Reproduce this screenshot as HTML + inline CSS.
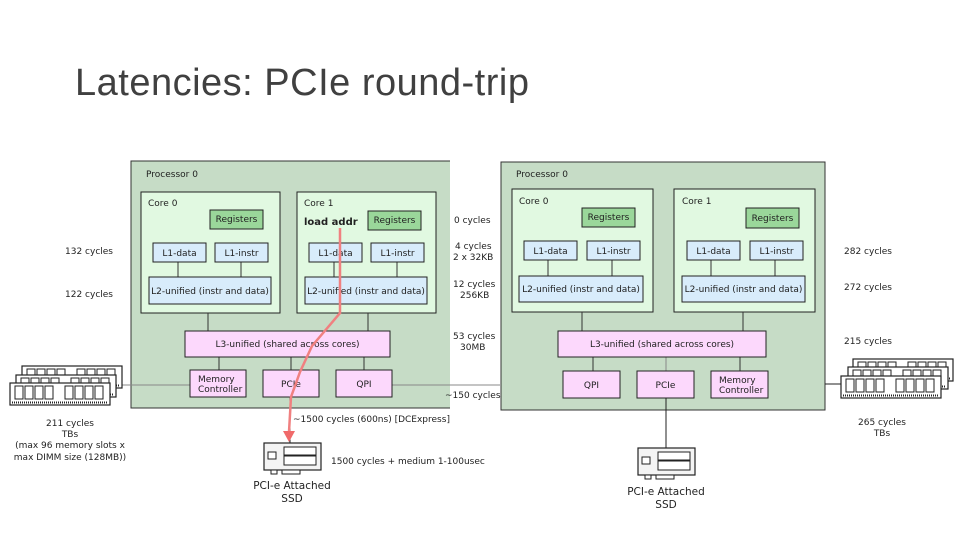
<!DOCTYPE html>
<html><head><meta charset="utf-8"><style>
html,body{margin:0;padding:0;background:#fff;}
svg{display:block;}
text{font-family:"DejaVu Sans","Liberation Sans",sans-serif;}
</style></head><body>
<svg width="960" height="540" viewBox="0 0 960 540" xmlns="http://www.w3.org/2000/svg">
<defs>
<g id="dimm">
  <rect x="0" y="0" width="100" height="22" fill="#fff" stroke="#222" stroke-width="1.2"/>
  <rect x="5" y="3" width="8" height="13" fill="#fff" stroke="#222"/>
  <rect x="15" y="3" width="8" height="13" fill="#fff" stroke="#222"/>
  <rect x="25" y="3" width="8" height="13" fill="#fff" stroke="#222"/>
  <rect x="35" y="3" width="8" height="13" fill="#fff" stroke="#222"/>
  <rect x="55" y="3" width="8" height="13" fill="#fff" stroke="#222"/>
  <rect x="65" y="3" width="8" height="13" fill="#fff" stroke="#222"/>
  <rect x="75" y="3" width="8" height="13" fill="#fff" stroke="#222"/>
  <rect x="85" y="3" width="8" height="13" fill="#fff" stroke="#222"/>
  <line x1="2" y1="19.5" x2="98" y2="19.5" stroke="#222" stroke-width="2" stroke-dasharray="1,1"/>
</g>
<g id="ssd">
  <rect x="0" y="0" width="57" height="27" fill="#f4f4f4" stroke="#222" stroke-width="1.2"/>
  <rect x="4" y="9" width="8" height="7" fill="#fff" stroke="#222"/>
  <rect x="20" y="4" width="32" height="8" fill="#fff" stroke="#222"/>
  <rect x="20" y="13" width="32" height="9" fill="#fff" stroke="#222"/>
  <rect x="7" y="27" width="6" height="4" fill="#fff" stroke="#222"/>
  <rect x="18" y="27" width="18" height="4" fill="#fff" stroke="#222"/>
</g>
</defs>

<text x="75" y="95" font-size="38" letter-spacing="0.5" fill="#404040" style="font-family:'Liberation Sans',sans-serif">Latencies: PCIe round-trip</text>

<g font-size="9" fill="#222" stroke-width="1">
<!-- Left processor -->
<rect x="131" y="161" width="320" height="247" fill="#c6dcc6" stroke="#333"/>
<rect x="450" y="158" width="2" height="254" fill="#fff"/>
<text x="146" y="177">Processor 0</text>
<rect x="141" y="192" width="139" height="121" fill="#e1f9e1" stroke="#222"/>
<rect x="297" y="192" width="139" height="121" fill="#e1f9e1" stroke="#222"/>
<text x="148" y="206">Core 0</text>
<text x="304" y="206">Core 1</text>
<text x="304" y="225" font-weight="bold" font-size="10">load addr</text>
<rect x="210" y="210" width="53" height="19" fill="#9ad79a" stroke="#222"/>
<rect x="368" y="211" width="53" height="19" fill="#9ad79a" stroke="#222"/>
<text x="236.5" y="222" text-anchor="middle">Registers</text>
<text x="394.5" y="223" text-anchor="middle">Registers</text>
<g stroke="#333"><line x1="178" y1="262" x2="178" y2="277"/><line x1="241" y1="262" x2="241" y2="277"/><line x1="334" y1="262" x2="334" y2="277"/><line x1="397" y1="262" x2="397" y2="277"/>
<line x1="208" y1="313" x2="208" y2="331"/><line x1="368" y1="313" x2="368" y2="331"/>
<line x1="219" y1="357" x2="219" y2="370"/><line x1="291" y1="357" x2="291" y2="370"/><line x1="364" y1="357" x2="364" y2="370"/>
<line x1="120" y1="385" x2="190" y2="385" stroke="#888"/><line x1="392" y1="385" x2="500" y2="385" stroke="#888"/>
<line x1="290" y1="397" x2="290" y2="443" stroke="#222"/></g>
<g fill="#d8ecfb" stroke="#222">
<rect x="153" y="243" width="53" height="19"/><rect x="215" y="243" width="53" height="19"/>
<rect x="309" y="243" width="53" height="19"/><rect x="371" y="243" width="53" height="19"/>
<rect x="149" y="277" width="122" height="27"/><rect x="305" y="277" width="122" height="27"/></g>
<text x="179.5" y="256" text-anchor="middle">L1-data</text><text x="241.5" y="256" text-anchor="middle">L1-instr</text>
<text x="335.5" y="256" text-anchor="middle">L1-data</text><text x="397.5" y="256" text-anchor="middle">L1-instr</text>
<text x="210" y="294" text-anchor="middle">L2-unified (instr and data)</text>
<text x="366" y="294" text-anchor="middle">L2-unified (instr and data)</text>
<g fill="#fcd8fc" stroke="#222">
<rect x="185" y="331" width="205" height="26"/>
<rect x="190" y="370" width="56" height="27"/><rect x="263" y="370" width="56" height="27"/><rect x="336" y="370" width="56" height="27"/></g>
<text x="287.5" y="347" text-anchor="middle">L3-unified (shared across cores)</text>
<text x="198" y="382">Memory</text><text x="198" y="392">Controller</text>
<text x="291" y="387" text-anchor="middle">PCIe</text>
<text x="364" y="387" text-anchor="middle">QPI</text>

<use href="#dimm" x="22" y="366"/>
<use href="#dimm" x="16" y="375"/>
<use href="#dimm" x="10" y="383"/>

<text x="65" y="254">132 cycles</text>
<text x="65" y="297">122 cycles</text>
<g text-anchor="middle"><text x="70" y="426">211 cycles</text><text x="70" y="437">TBs</text>
<text x="70" y="448">(max 96 memory slots x</text><text x="70" y="460">max DIMM size (128MB))</text></g>
<text x="293" y="422">~1500 cycles (600ns) [DCExpress]</text>
<use href="#ssd" x="264" y="443"/>
<text x="331" y="464">1500 cycles + medium 1-100usec</text>
<g text-anchor="middle" font-size="10.5"><text x="292" y="489">PCI-e Attached</text><text x="292" y="502">SSD</text></g>

<text x="454" y="223">0 cycles</text>
<text x="455" y="249">4 cycles</text><text x="453" y="260">2 x 32KB</text>
<text x="453" y="287">12 cycles</text><text x="460" y="298">256KB</text>
<text x="453" y="339">53 cycles</text><text x="460" y="350">30MB</text>
<text x="445" y="398">~150 cycles</text>

<!-- Right processor -->
<rect x="501" y="162" width="324" height="248" fill="#c6dcc6" stroke="#333"/>
<text x="516" y="177">Processor 0</text>
<rect x="512" y="189" width="141" height="123" fill="#e1f9e1" stroke="#222"/>
<rect x="674" y="189" width="141" height="123" fill="#e1f9e1" stroke="#222"/>
<text x="519" y="204">Core 0</text><text x="682" y="204">Core 1</text>
<rect x="582" y="208" width="53" height="19" fill="#9ad79a" stroke="#222"/>
<rect x="746" y="208" width="53" height="20" fill="#9ad79a" stroke="#222"/>
<text x="608.5" y="220" text-anchor="middle">Registers</text>
<text x="772.5" y="221" text-anchor="middle">Registers</text>
<g stroke="#333"><line x1="548" y1="260" x2="548" y2="276"/><line x1="612" y1="260" x2="612" y2="276"/><line x1="711" y1="260" x2="711" y2="276"/><line x1="775" y1="260" x2="775" y2="276"/>
<line x1="582" y1="312" x2="582" y2="331"/><line x1="743" y1="312" x2="743" y2="331"/>
<line x1="593" y1="357" x2="593" y2="371"/><line x1="666" y1="357" x2="666" y2="371" stroke="#888"/><line x1="740" y1="357" x2="740" y2="371"/>
<line x1="825" y1="384" x2="842" y2="384" stroke="#222"/>
<line x1="666" y1="398" x2="666" y2="448" stroke="#222"/></g>
<g fill="#d8ecfb" stroke="#222">
<rect x="524" y="241" width="53" height="19"/><rect x="587" y="241" width="53" height="19"/>
<rect x="687" y="241" width="53" height="19"/><rect x="750" y="241" width="53" height="19"/>
<rect x="519" y="276" width="124" height="26"/><rect x="682" y="276" width="123" height="26"/></g>
<text x="550.5" y="254" text-anchor="middle">L1-data</text><text x="613.5" y="254" text-anchor="middle">L1-instr</text>
<text x="713.5" y="254" text-anchor="middle">L1-data</text><text x="776.5" y="254" text-anchor="middle">L1-instr</text>
<text x="581" y="292" text-anchor="middle">L2-unified (instr and data)</text>
<text x="743.5" y="292" text-anchor="middle">L2-unified (instr and data)</text>
<g fill="#fcd8fc" stroke="#222">
<rect x="558" y="331" width="208" height="26"/>
<rect x="563" y="371" width="57" height="27"/><rect x="637" y="371" width="57" height="27"/><rect x="711" y="371" width="57" height="27"/></g>
<text x="662" y="347" text-anchor="middle">L3-unified (shared across cores)</text>
<text x="591.5" y="388" text-anchor="middle">QPI</text>
<text x="665.5" y="388" text-anchor="middle">PCIe</text>
<text x="719" y="383">Memory</text><text x="719" y="393">Controller</text>

<use href="#dimm" x="853" y="359"/>
<use href="#dimm" x="848" y="367"/>
<use href="#dimm" x="841" y="376"/>

<text x="844" y="254">282 cycles</text>
<text x="844" y="290">272 cycles</text>
<text x="844" y="344">215 cycles</text>
<g text-anchor="middle"><text x="882" y="425">265 cycles</text><text x="882" y="436">TBs</text></g>
<use href="#ssd" x="638" y="448"/>
<g text-anchor="middle" font-size="10.5"><text x="666" y="495">PCI-e Attached</text><text x="666" y="508">SSD</text></g>
</g>

<polyline points="340,228 340,313 312,346 300,372 291,397 289,432" fill="none" stroke="#f08080" stroke-width="2.5"/>
<polygon points="283,431 295,431 289,442" fill="#f06a6a"/>
</svg>
</body></html>
